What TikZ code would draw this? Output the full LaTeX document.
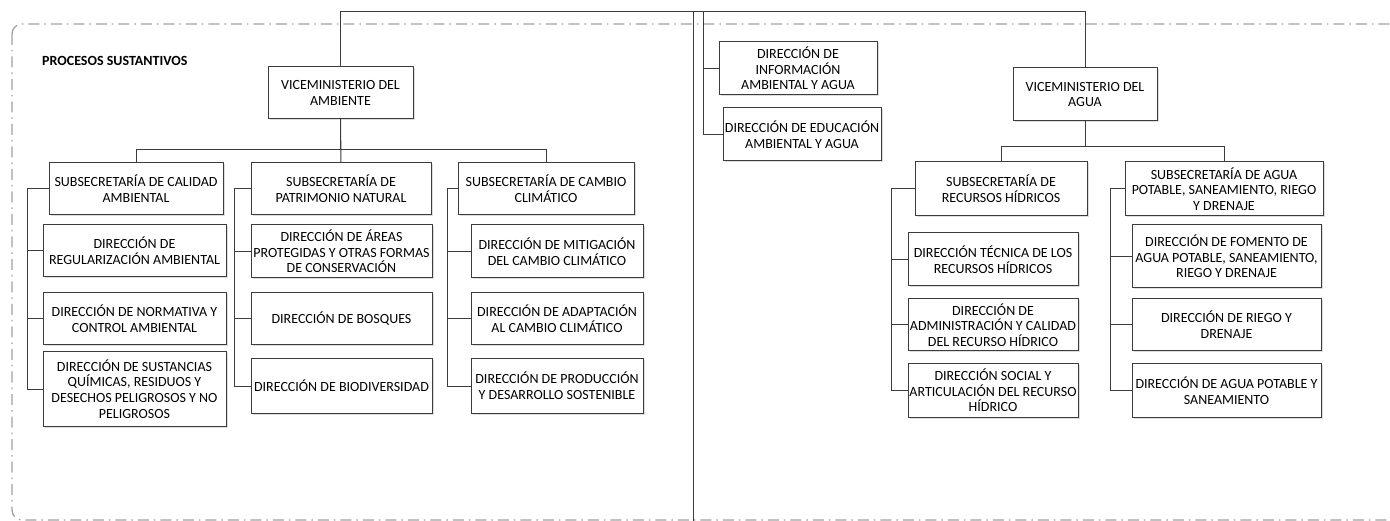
\documentclass[tikz,border=0pt]{standalone}
\usepackage{fontspec}
\setmainfont{Carlito}
\usetikzlibrary{shadows}

\definecolor{boxline}{HTML}{3C3C3C}
\definecolor{framegray}{HTML}{A0A0A0}

\tikzset{
  unitbox/.style 2 args={draw=boxline, line width=1pt, fill=white, align=center,
    inner sep=0.5pt, minimum width=#1, minimum height=#2, text=black,
    font=\fontsize{14pt}{15.7pt}\selectfont,
    drop shadow={shadow xshift=1.5pt, shadow yshift=-1.5pt, fill=black!22, opacity=0.6}},
  link/.style={draw=boxline, line width=1pt},
}

\begin{document}
\begin{tikzpicture}[x=1pt, y=-1pt]
   \useasboundingbox (0,0) rectangle (1390,521);
   % dashed frame
   \begin{scope}
      \clip (0,0) rectangle (1390,521);
      \draw [framegray, line width=1.3pt, dash pattern=on 11pt off 5pt on 1.5pt off 5pt, rounded corners=10pt] (12,24) rectangle (1420,520);
   \end{scope}
   \node [anchor=west, inner sep=0pt, font=\bfseries\fontsize{14pt}{14pt}\selectfont, text=black] (title) at (42,61) {PROCESOS SUSTANTIVOS};

   % viceministerio del ambiente
   \node [unitbox={145pt}{52pt}] (vma) at (340.5,93) {VICEMINISTERIO DEL\\AMBIENTE};
   \node [unitbox={174pt}{52pt}] (sca) at (136,189) {SUBSECRETARÍA DE CALIDAD\\AMBIENTAL};
   \node [unitbox={180pt}{52pt}] (spn) at (341,189) {SUBSECRETARÍA DE\\PATRIMONIO NATURAL};
   \node [unitbox={176pt}{52pt}] (scc) at (546,189) {SUBSECRETARÍA DE CAMBIO\\CLIMÁTICO};
   % calidad ambiental
   \node [unitbox={183pt}{52pt}] (reg) at (134.5,251) {DIRECCIÓN DE\\REGULARIZACIÓN AMBIENTAL};
   \node [unitbox={183pt}{52pt}] (nor) at (134.5,319) {DIRECCIÓN DE NORMATIVA Y\\CONTROL AMBIENTAL};
   \node [unitbox={183pt}{74pt}] (sus) at (134.5,389) {DIRECCIÓN DE SUSTANCIAS\\QUÍMICAS, RESIDUOS Y\\DESECHOS PELIGROSOS Y NO\\PELIGROSOS};
   % patrimonio natural
   \node [unitbox={181pt}{53pt}] (are) at (341.5,251.5) {DIRECCIÓN DE ÁREAS\\PROTEGIDAS Y OTRAS FORMAS\\DE CONSERVACIÓN};
   \node [unitbox={181pt}{52pt}] (bos) at (341.5,319) {DIRECCIÓN DE BOSQUES};
   \node [unitbox={181pt}{54pt}] (bio) at (341.5,386) {DIRECCIÓN DE BIODIVERSIDAD};
   % cambio climatico
   \node [unitbox={172pt}{53pt}] (mit) at (557,251.5) {DIRECCIÓN DE MITIGACIÓN\\DEL CAMBIO CLIMÁTICO};
   \node [unitbox={172pt}{52pt}] (ada) at (557,319) {DIRECCIÓN DE ADAPTACIÓN\\AL CAMBIO CLIMÁTICO};
   \node [unitbox={172pt}{54pt}] (pro) at (557,386) {DIRECCIÓN DE PRODUCCIÓN\\Y DESARROLLO SOSTENIBLE};

   % direcciones compartidas
   \node [unitbox={158pt}{53pt}] (inf) at (798,68.5) {DIRECCIÓN DE\\INFORMACIÓN\\AMBIENTAL Y AGUA};
   \node [unitbox={158pt}{53pt}] (edu) at (802,134.5) {DIRECCIÓN DE EDUCACIÓN\\AMBIENTAL Y AGUA};

   % viceministerio del agua
   \node [unitbox={144pt}{53pt}] (vmg) at (1085,94.5) {VICEMINISTERIO DEL\\AGUA};
   \node [unitbox={172pt}{54pt}] (srh) at (1001,189) {SUBSECRETARÍA DE\\RECURSOS HÍDRICOS};
   \node [unitbox={198pt}{54pt}] (sap) at (1224,189) {SUBSECRETARÍA DE AGUA\\POTABLE, SANEAMIENTO, RIEGO\\Y DRENAJE};
   % recursos hidricos
   \node [unitbox={170pt}{53pt}] (tec) at (993,259.5) {DIRECCIÓN TÉCNICA DE LOS\\RECURSOS HÍDRICOS};
   \node [unitbox={170pt}{52pt}] (adm) at (993,325) {DIRECCIÓN DE\\ADMINISTRACIÓN Y CALIDAD\\DEL RECURSO HÍDRICO};
   \node [unitbox={170pt}{53pt}] (soc) at (993,390.5) {DIRECCIÓN SOCIAL Y\\ARTICULACIÓN DEL RECURSO\\HÍDRICO};
   % agua potable
   \node [unitbox={189pt}{63pt}] (fom) at (1226.5,256.5) {DIRECCIÓN DE FOMENTO DE\\AGUA POTABLE, SANEAMIENTO,\\RIEGO Y DRENAJE};
   \node [unitbox={189pt}{52pt}] (rie) at (1226.5,325) {DIRECCIÓN DE RIEGO Y\\DRENAJE};
   \node [unitbox={189pt}{53pt}] (aps) at (1226.5,390.5) {DIRECCIÓN DE AGUA POTABLE Y\\SANEAMIENTO};

   % top line and middle split
   \coordinate (ctop) at (693,12);
   \coordinate (cbot) at (693,521);
   \coordinate (itop) at (703,12);
   \draw [link] (vma.north) -- ++(0,-55) -| (vmg.north);
   \draw [link] (ctop) -- (cbot);
   \draw [link] (itop) |- (inf.west);
   \draw [link] (itop) |- (edu.west);

   % ambiente tree
   \draw [link] (vma.south) -- ++(0,30) -| (sca.north);
   \draw [link] (vma.south) -- ++(0,30) -| (scc.north);
   \draw [link] (vma.south) -- (spn.north);
   \foreach \c in {reg,nor,sus} \draw [link] (sca.west) -- ++(-21,0) |- (\c.west);
   \foreach \c in {are,bos,bio} \draw [link] (spn.west) -- ++(-16,0) |- (\c.west);
   \foreach \c in {mit,ada,pro} \draw [link] (scc.west) -- ++(-10,0) |- (\c.west);

   % agua tree
   \draw [link] (vmg.south) -- ++(0,25) -| (srh.north);
   \draw [link] (vmg.south) -- ++(0,25) -| (sap.north);
   \foreach \c in {tec,adm,soc} \draw [link] (srh.west) -- ++(-23,0) |- (\c.west);
   \foreach \c in {fom,rie,aps} \draw [link] (sap.west) -- ++(-14,0) |- (\c.west);
\end{tikzpicture}
\end{document}
